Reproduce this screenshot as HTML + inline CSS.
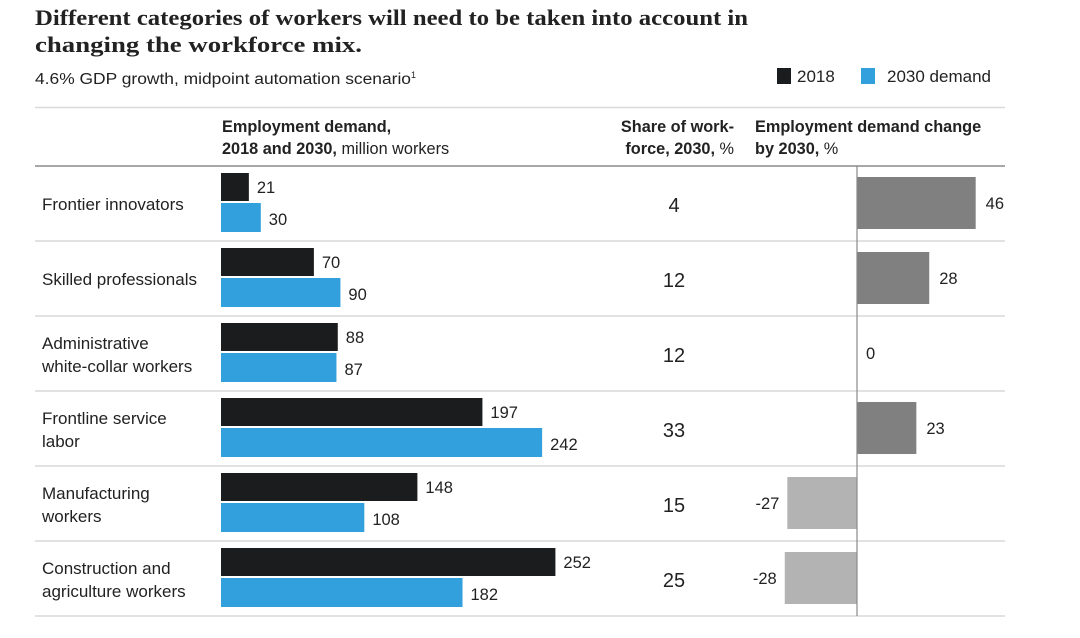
<!DOCTYPE html>
<html><head><meta charset="utf-8"><style>
body{margin:0;background:#fff;}
svg text{font-family:"Liberation Sans",Arial,sans-serif;fill:#222;}
</style></head><body>
<svg width="1080" height="633" viewBox="0 0 1080 633" xmlns="http://www.w3.org/2000/svg">
<text x="35" y="25" textLength="713" lengthAdjust="spacingAndGlyphs" style="font-family:'Liberation Serif',serif;font-weight:bold;font-size:22.5px" fill="#111">Different categories of workers will need to be taken into account in</text>
<text x="35" y="52" textLength="327" lengthAdjust="spacingAndGlyphs" style="font-family:'Liberation Serif',serif;font-weight:bold;font-size:22.5px" fill="#111">changing the workforce mix.</text>
<text x="35" y="84" font-size="15.5" fill="#333"><tspan textLength="376" lengthAdjust="spacingAndGlyphs">4.6% GDP growth, midpoint automation scenario</tspan><tspan font-size="9" dy="-6">1</tspan></text>
<rect x="777" y="68" width="14" height="16" fill="#1b1c1e"/>
<text x="797" y="82" font-size="17">2018</text>
<rect x="861" y="68" width="14" height="16" fill="#31a0dc"/>
<text x="887" y="82" font-size="17">2030 demand</text>
<line x1="35" x2="1005" y1="107.5" y2="107.5" stroke="#d9d9d9" stroke-width="1.5"/>
<text x="222" y="132" font-size="16.3" font-weight="bold">Employment demand,</text>
<text x="222" y="154" font-size="16.3"><tspan font-weight="bold">2018 and 2030,</tspan> million workers</text>
<text x="734" y="132" font-size="16.3" font-weight="bold" text-anchor="end">Share of work-</text>
<text x="734" y="154" font-size="16.3" text-anchor="end"><tspan font-weight="bold">force, 2030,</tspan> %</text>
<text x="755" y="132" font-size="16.3" font-weight="bold">Employment demand change</text>
<text x="755" y="154" font-size="16.3"><tspan font-weight="bold">by 2030,</tspan> %</text>
<g id="rows"></g>
<line x1="35" x2="1005" y1="166" y2="166" stroke="#8a8a8a" stroke-width="1.5"/>
<line x1="857" x2="857" y1="166" y2="616" stroke="#8a8a8a" stroke-width="1.2"/>
</svg>
<script>
const categories=[["Frontier innovators"],["Skilled professionals"],["Administrative","white-collar workers"],["Frontline service","labor"],["Manufacturing","workers"],["Construction and","agriculture workers"]];
const demand2018=[21,70,88,197,148,252];
const demand2030=[30,90,87,242,108,182];
const share2030=[4,12,12,33,15,25];
const change2030=[46,28,0,23,-27,-28];
const NS="http://www.w3.org/2000/svg";
const g=document.getElementById('rows');
const x0=221,sx=1.327,z=857,cx=2.58,top0=166,rh=75;
function mk(t,a){const e=document.createElementNS(NS,t);for(const k in a)e.setAttribute(k,a[k]);g.appendChild(e);return e;}
categories.forEach((c,i)=>{
 const y=top0+i*rh;
 const sep=mk('line',{x1:35,x2:1005,y1:y+rh,y2:y+rh,stroke:'#d9d9d9','stroke-width':1.5});
 
 
 const lab=mk('text',{x:42,'font-size':17});
 
 
 const ly=c.length==1?[y+44]:[y+33,y+56];
 c.forEach((s,j)=>{const t=document.createElementNS(NS,'tspan');t.setAttribute('x',42);t.setAttribute('y',ly[j]);t.textContent=s;lab.appendChild(t);});
 const w1=demand2018[i]*sx,w2=demand2030[i]*sx;
 const b1=mk('rect',{x:x0,y:y+7,width:w1,height:28,fill:'#1b1c1e'});
 
 
 const t1=mk('text',{x:x0+w1+8,y:y+27,'font-size':16.5});t1.textContent=demand2018[i];
 
 
 const b2=mk('rect',{x:x0,y:y+37,width:w2,height:29,fill:'#31a0dc'});
 
 
 const t2=mk('text',{x:x0+w2+8,y:y+59,'font-size':16.5});t2.textContent=demand2030[i];
 
 
 const sh=mk('text',{x:674,y:y+46,'font-size':20,'text-anchor':'middle'});sh.textContent=share2030[i];
 
 
 const v=change2030[i],w=Math.abs(v)*cx;
 const cb=mk('rect',{x:v>=0?z:z-w,y:y+11,width:w,height:52,fill:v>=0?'#808080':'#b3b3b3'});
 
 
 const ct=mk('text',{x:v>=0?z+w+(v==0?9:10):z-w-8,y:y+43,'font-size':16.5,'text-anchor':v>=0?'start':'end'});ct.textContent=v;
 
 
});
</script>
</body></html>
